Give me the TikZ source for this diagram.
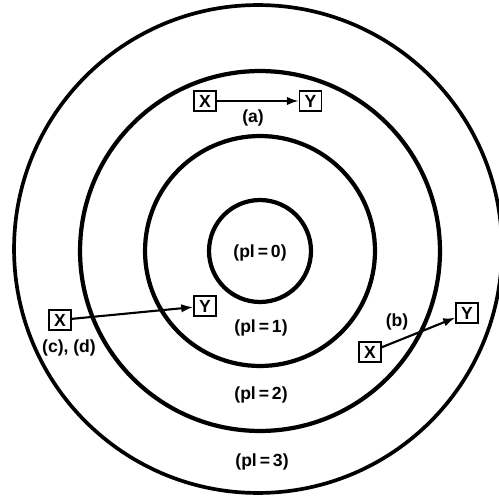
\documentclass[tikz,border=0pt]{standalone}
\usepackage{fontspec}
\setmainfont{Liberation Sans}
\usetikzlibrary{positioning, arrows.meta}

\begin{document}
\begin{tikzpicture}[
  x=0.02cm, y=-0.02cm,
  ring/.style={line width=2.4pt},
  box/.style={draw, line width=0.9pt, inner sep=0pt, minimum width=0.44cm, minimum height=0.4cm, font=\fontsize{10}{11}\selectfont\bfseries},
  lbl/.style={font=\fontsize{10}{11}\selectfont\bfseries, inner sep=1pt},
  arr/.style={-{Latex[length=2.4mm, width=1.7mm]}, line width=1.2pt}
]
\useasboundingbox (0,0) rectangle (499,499);
\coordinate (ctr) at (260,251);
\coordinate (octr) at (258,249);

% privilege levels
\draw[ring] (ctr) circle (1.02cm);
\draw[ring] (ctr) circle (2.3cm);
\draw[ring] (ctr) circle (3.6cm);
\draw[ring, line width=2.1pt] (octr) circle (4.88cm);

\node[lbl] (pl0) at (260,253) {(pl\,=\,0)};
\node[lbl] (pl1) at (261,328) {(pl\,=\,1)};
\node[lbl] (pl2) at (261,395) {(pl\,=\,2)};
\node[lbl] (pl3) at (262,462) {(pl\,=\,3)};

% (a)
\node[box] (xa) at (205,101) {X};
\node[box, right=1.64cm of xa] (ya) {Y};
\draw[arr] (xa) -- (ya);
\node[lbl] (la) at (253,118) {(a)};

% (b)
\node[box] (xb) at (370,352) {X};
\node[box] (yb) at (467,313) {Y};
\draw[arr] (xb) -- (yb);
\node[lbl] (lb) at (397,322) {(b)};

% (c), (d)
\node[box] (xc) at (60,320) {X};
\node[box] (yc) at (205,306) {Y};
\draw[arr] (xc) -- (yc);
\node[lbl] (lc) at (69,348) {(c), (d)};
\end{tikzpicture}
\end{document}
